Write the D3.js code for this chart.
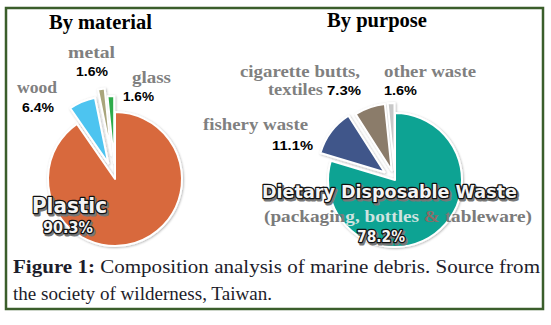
<!DOCTYPE html>
<html>
<head>
<meta charset="utf-8">
<script src="https://cdn.jsdelivr.net/npm/d3@7"></script>
<style>
  body { margin: 0; background: #fff; }
  svg { display: block; }
</style>
</head>
<body>
<div id="chart"></div>
<script>
// Composition of marine debris: two exploded pies
const materialLabels = ['Plastic', 'wood', 'metal', 'glass'];
const materialValues = [90.3, 6.4, 1.6, 1.6];
const purposeLabels  = ['Dietary Disposable Waste', 'fishery waste', 'cigarette butts, textiles', 'other waste'];
const purposeValues  = [78.2, 11.1, 7.3, 1.6];

const materialColors  = ['#d8693c', '#4ec4f0', '#a9a57c', '#2fab4b'];
const purposeColors   = ['#0fa393', '#3f578a', '#8b7b6b', '#c8c8c8'];
const materialExplode = [0, 17, 24, 16];
const purposeExplode  = [0, 13, 10, 10];

const W = 551, H = 325;
const SERIF = '"Liberation Serif", "Times New Roman", serif';
const SANS  = '"Liberation Sans", Arial, sans-serif';
const ROUND = '"DejaVu Sans", Verdana, sans-serif';
const GRAY  = '#808080';

const svg = d3.select('#chart').append('svg')
  .attr('width', W)
  .attr('height', H);

const defs = svg.append('defs');
defs.append('filter').attr('id', 'soft')
  .attr('x', '-20%').attr('y', '-20%').attr('width', '140%').attr('height', '140%')
  .append('feDropShadow')
    .attr('dx', 0.8).attr('dy', 0.8)
    .attr('stdDeviation', 1)
    .attr('flood-color', '#000').attr('flood-opacity', 0.3);

// frame
svg.append('rect')
  .attr('x', 6).attr('y', 8)
  .attr('width', 537).attr('height', 301)
  .attr('fill', '#fff')
  .attr('stroke', '#3b5e2b')
  .attr('stroke-width', 2.5);

function drawPie(cx, cy, r, values, colors, explode) {
  const g = svg.append('g')
    .attr('transform', `translate(${cx},${cy})`)
    .attr('filter', 'url(#soft)');
  const arcs = d3.pie().sort(null)(values);
  const arc = d3.arc().innerRadius(0).outerRadius(r);
  g.selectAll('path')
    .data(arcs)
    .join('path')
      .attr('d', arc)
      .attr('transform', (d, i) => {
        const a = (d.startAngle + d.endAngle) / 2;
        return `translate(${Math.sin(a) * explode[i]},${-Math.cos(a) * explode[i]})`;
      })
      .attr('fill', (d, i) => colors[i])
      .attr('stroke', '#fff')
      .attr('stroke-width', 2)
      .attr('stroke-linejoin', 'round');
  return g;
}

drawPie(115, 179, 67, materialValues, materialColors, materialExplode);
drawPie(395, 180, 67, purposeValues, purposeColors, purposeExplode);

// plain text helper; len squeezes/stretches to the measured width
function label(x, y, txt, opt) {
  const t = svg.append('text')
    .attr('x', x).attr('y', y)
    .attr('font-family', opt.family || SERIF)
    .attr('font-size', opt.size)
    .attr('font-weight', opt.weight || 'bold')
    .attr('fill', opt.fill || '#000')
    .text(txt);
  if (opt.len) t.attr('textLength', opt.len).attr('lengthAdjust', 'spacingAndGlyphs');
  return t;
}

// outlined "sticker" text used inside the pies
function outlined(x, y, txt, size, len) {
  label(x + 1.5, y + 1.5, txt, { family: ROUND, size, fill: '#777', len })
    .attr('stroke', '#777').attr('stroke-width', 3).attr('stroke-linejoin', 'round');
  label(x, y, txt, { family: ROUND, size, fill: '#f4f4f4', len })
    .attr('stroke', '#111').attr('stroke-width', 2.6)
    .attr('stroke-linejoin', 'round')
    .attr('paint-order', 'stroke');
}

// titles
label(49, 29, 'By material', { size: 20.5, len: 103 });
label(327, 27, 'By purpose', { size: 20.5, len: 100 });

// material labels
const pct = v => v.toFixed(1) + '%';
const LBL = 16.5, PCT = 13.5;
label(68, 58, materialLabels[2], { size: LBL, fill: GRAY, len: 47 });
label(76, 76, pct(materialValues[2]), { family: SANS, size: PCT, len: 32 });
label(132, 83, materialLabels[3], { size: LBL, fill: GRAY, len: 39 });
label(123, 101, pct(materialValues[3]), { family: SANS, size: PCT, len: 31 });
label(17, 93, materialLabels[1], { size: LBL, fill: GRAY, len: 40 });
label(22, 112, pct(materialValues[1]), { family: SANS, size: PCT, len: 32 });
outlined(32, 213, materialLabels[0], 21, 75);
outlined(43, 233, pct(materialValues[0]), 15, 50);

// purpose labels
const [cig1, cig2] = purposeLabels[2].split(', ');
label(240, 77, cig1 + ',', { size: LBL, fill: GRAY, len: 120 });
label(268, 95, cig2, { size: LBL, fill: GRAY, len: 55 });
label(327, 95, pct(purposeValues[2]), { family: SANS, size: PCT, len: 34 });
label(384, 77, purposeLabels[3], { size: LBL, fill: GRAY, len: 92 });
label(384, 95, pct(purposeValues[3]), { family: SANS, size: PCT, len: 33 });
label(203, 130, purposeLabels[1], { size: LBL, fill: GRAY, len: 105 });
label(272, 150, pct(purposeValues[1]), { family: SANS, size: PCT, len: 41 });
outlined(262, 198, purposeLabels[0], 18, 255);

const sub = label(264, 222, '', { size: 17, fill: GRAY, len: 268 });
[['(packagin', '#7b7b7b'], ['g, bottles ', '#cfe3e0'], ['&', '#8c6b66'], [' tableware)', '#7b7b7b']]
  .forEach(([s, c]) => sub.append('tspan').attr('fill', c).text(s));
outlined(357, 242, pct(purposeValues[0]), 15, 48);

// caption
const cap1 = svg.append('text')
  .attr('x', 13).attr('y', 273)
  .attr('font-family', SERIF).attr('font-size', 18)
  .attr('fill', '#1d1d2b')
  .attr('textLength', 527).attr('lengthAdjust', 'spacingAndGlyphs');
cap1.append('tspan').attr('font-weight', 'bold').text('Figure 1:');
cap1.append('tspan').text(' Composition analysis of marine debris. Source from');
label(13, 300, 'the society of wilderness, Taiwan.', { size: 18, weight: 'normal', fill: '#1d1d2b', len: 259 });
</script>
</body>
</html>
